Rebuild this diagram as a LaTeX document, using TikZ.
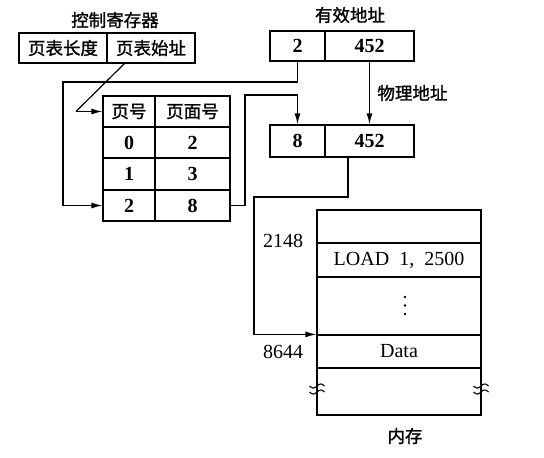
\documentclass[tikz,border=0pt]{standalone}
\usepackage{fontspec}
\setmainfont{Liberation Serif}
\newfontfamily\cjk{Noto Sans CJK SC}[FakeBold=1.2]
\usetikzlibrary{arrows.meta}
\begin{document}
\begin{tikzpicture}[x=1pt,y=-1pt,
  line width=1.2pt,
  cell/.style={draw,inner sep=0pt,minimum height=#1},
  cell/.default=30pt,
  zh/.style={font=\cjk\fontsize{17.5}{19}\selectfont},
  num/.style={font=\bfseries\fontsize{20}{22}\selectfont},
  txt/.style={font=\fontsize{20}{22}\selectfont},
  arr/.style={-{Latex[length=11pt,width=6pt]}},
  wire/.style={line width=1.2pt}]
\useasboundingbox (0,0) rectangle (544,458);

% control register
\node[zh] (ctrltitle) at (115,20) {控制寄存器};
\node[cell,zh,minimum width=88pt] (plen) at (63,48) {页表长度};
\node[cell,zh,minimum width=88pt] (pbase) at (151,48) {页表始址};

% effective address
\node[zh] (eatitle) at (350,15) {有效地址};
\node[cell,num,minimum width=55pt] (epage) at (297.5,46) {2};
\node[cell,num,minimum width=89pt] (eoff) at (369.5,46) {452};

% physical address
\node[cell=32pt,num,minimum width=55pt] (ppage) at (297.5,141) {8};
\node[cell=32pt,num,minimum width=89pt] (poff) at (369.5,141) {452};

% page table
\node[cell=31pt,zh,minimum width=52pt] (h1) at (129,111.5) {页号};
\node[cell=31pt,zh,minimum width=75pt] (h2) at (192.5,111.5) {页面号};
\node[cell=31pt,num,minimum width=52pt] (a0) at (129,142.5) {0};
\node[cell=31pt,num,minimum width=75pt] (b0) at (192.5,142.5) {2};
\node[cell=31pt,num,minimum width=52pt] (a1) at (129,174) {1};
\node[cell=31pt,num,minimum width=75pt] (b1) at (192.5,174) {3};
\node[cell=31pt,num,minimum width=52pt] (a2) at (129,205.5) {2};
\node[cell=31pt,num,minimum width=75pt] (b2) at (192.5,205.5) {8};

% memory
\node[cell=33pt,minimum width=164pt] (m0) at (399,226.5) {};
\node[cell=34pt,txt,minimum width=164pt] (m1) at (399,260) {LOAD\ \ 1,\ \ 2500};
\node[cell=58pt,minimum width=164pt] (m2) at (399,306) {};
\node[cell=33pt,txt,minimum width=164pt] (m3) at (399,351.5) {Data};
\node[cell=47pt,minimum width=164pt] (m4) at (399,391.5) {};
\node[zh] (memtitle) at (405,436) {内存};
\node[txt,anchor=east] (a2148) at (307,241) {2148};
\node[txt,anchor=east] (a8644) at (307,352) {8644};

% vertical ellipsis in the middle block
\foreach \dy in {297,305.5,314}
  \fill (405,\dy) circle (1.4pt);

% break marks on the memory sides
\foreach \bx in {317,481}{
  \draw[line width=1.1pt] plot[domain=-7.5:7.5,samples=25] ({\bx+\x},{386-2*sin(\x*24)});
  \draw[line width=1.1pt] plot[domain=-7.5:7.5,samples=25] ({\bx+\x},{392-2*sin(\x*24)});
}

% connectors
\coordinate (c1) at (125,63);
\coordinate (c2) at (76,111.5);
\draw[wire] (c1) -- (c2);
\draw[arr] (c2) -- (h1.west);

\coordinate (c3) at (63,82);
\draw[arr] (epage.south) |- (c3) |- (a2.west);

\coordinate (c4) at (245,95);
\draw[arr] (b2.east) -| (c4) -| (ppage.north);

\draw[arr] (eoff.south) -- node[zh,right=4pt] (phys) {物理地址} (poff.north);

\coordinate (c5) at (348,157);
\coordinate (c6) at (254,197);
\draw[arr] (c5) |- (c6) |- (m3.north west);
\end{tikzpicture}
\end{document}
